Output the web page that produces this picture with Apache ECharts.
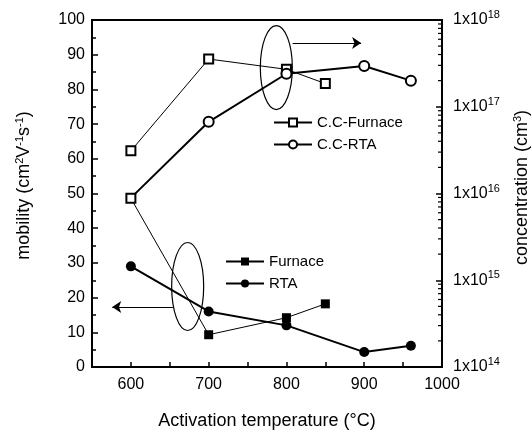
<!DOCTYPE html>
<html>
<head>
<meta charset="utf-8">
<script src="https://cdn.jsdelivr.net/npm/echarts@6/dist/echarts.min.js"></script>
<style>
  html, body { margin: 0; padding: 0; background: #fff; }
  #main { width: 532px; height: 431px; }
</style>
</head>
<body>
<div id="main"></div>
<script>
// mobility (left axis)
let furnaceTemps = [600, 700, 800, 850];
let furnaceMobility = [48.6, 9.3, 14.2, 18.2];
let rtaTemps = [600, 700, 800, 900, 960];
let rtaMobility = [29, 16, 12, 4.3, 6.1];
// carrier concentration (right axis, log)
let ccFurnaceTemps = [600, 700, 800, 850];
let ccFurnaceConc = [3.1e16, 3.55e17, 2.7e17, 1.85e17];
let ccRtaTemps = [600, 700, 800, 900, 960];
let ccRtaConc = [8.9e15, 6.7e16, 2.4e17, 2.95e17, 2.0e17];
// tick labels
let xLabels = [600, 700, 800, 900, 1000];
let concDecades = [14, 15, 16, 17, 18];
let minorMantissas = [2, 3, 4, 5, 6, 7, 8, 9];

// annotation ellipses / arrows, in data units of the left axis
let ellipseRight = { x: 787, y: 86.3, rx: 16, ry: 42 };
let ellipseLeft = { x: 673, y: 23.2, rx: 16, ry: 44 };
let arrowRight = [[808, 93.4], [896, 93.4]];
let arrowLeft = [[654, 17.3], [576, 17.3]];

const FONT = 'Liberation Sans, Arial, sans-serif';

function zip(xs, ys) {
  return xs.map(function (x, i) { return [x, ys[i]]; });
}

// log minor tick values 2..9 x 10^n, drawn on the right axis
let minorTicks = [];
concDecades.slice(0, -1).forEach(function (d) {
  minorMantissas.forEach(function (m) { minorTicks.push([1000, m * Math.pow(10, d)]); });
});

let furnaceData = zip(furnaceTemps, furnaceMobility);
furnaceData[0] = { value: furnaceData[0], symbol: 'emptyRect' };
let ccRtaData = zip(ccRtaTemps, ccRtaConc);
ccRtaData[0] = { value: ccRtaData[0], symbol: 'none' };

let chart = echarts.init(document.getElementById('main'));

let supRich = {
  s: { fontSize: 11, padding: [0, 0, 10, 0], fontFamily: FONT, color: '#000' }
};

let option = {
  backgroundColor: '#fff',
  animation: false,
  textStyle: { fontFamily: FONT, color: '#000' },
  grid: {
    left: 92, right: 90, top: 20, bottom: 64,
    outerBoundsMode: 'none', containLabel: false,
    show: true, borderColor: '#000', borderWidth: 2
  },
  legend: [
    {
      data: ['C.C-Furnace', 'C.C-RTA'],
      orient: 'vertical',
      left: 273, top: 115, padding: 0,
      itemWidth: 38, itemHeight: 10, itemGap: 7,
      textStyle: { fontSize: 15, color: '#000', fontFamily: FONT }
    },
    {
      data: ['Furnace', 'RTA'],
      orient: 'vertical',
      left: 225, top: 254, padding: 0,
      itemWidth: 38, itemHeight: 10, itemGap: 7,
      textStyle: { fontSize: 15, color: '#000', fontFamily: FONT }
    }
  ],
  xAxis: {
    type: 'value',
    min: 550, max: 1000, interval: 50,
    name: 'Activation temperature (°C)',
    nameLocation: 'middle', nameGap: 45,
    nameTextStyle: { fontSize: 18, color: '#000', fontFamily: FONT },
    axisLine: { lineStyle: { color: '#000', width: 2 } },
    axisTick: { inside: true, length: 5, lineStyle: { color: '#000', width: 1.5 } },
    axisLabel: {
      fontSize: 16, color: '#000', margin: 10,
      formatter: function (v) { return xLabels.indexOf(v) >= 0 ? String(v) : ''; }
    },
    splitLine: { show: false }
  },
  yAxis: [
    {
      type: 'value',
      min: 0, max: 100, interval: 10,
      name: 'mobility (cm{s|2}V{s|-1}s{s|-1})',
      nameLocation: 'middle', nameGap: 57, nameRotate: 90,
      nameTextStyle: { fontSize: 18, color: '#000', fontFamily: FONT, padding: [0, 0, 0, 16], rich: supRich },
      axisLine: { show: true, lineStyle: { color: '#000', width: 2 } },
      axisTick: { inside: true, length: 6, lineStyle: { color: '#000', width: 1.5 } },
      minorTick: { show: true, splitNumber: 2, length: 4, lineStyle: { color: '#000', width: 1.5 } },
      axisLabel: { fontSize: 16, color: '#000', margin: 7 },
      splitLine: { show: false },
      minorSplitLine: { show: false }
    },
    {
      type: 'log',
      logBase: 10,
      min: 1e14, max: 1e18,
      position: 'right',
      name: 'concentration (cm{s|3})',
      nameLocation: 'middle', nameGap: 70, nameRotate: 90,
      nameTextStyle: { fontSize: 18, color: '#000', fontFamily: FONT, padding: [0, 0, 0, 12], rich: supRich },
      axisLine: { show: true, lineStyle: { color: '#000', width: 2 } },
      axisTick: { inside: true, length: 6, lineStyle: { color: '#000', width: 1.5 } },
      axisLabel: {
        fontSize: 16, color: '#000', margin: 11,
        formatter: function (v) {
          return '1x10{s|' + Math.round(Math.log10(v)) + '}';
        },
        rich: supRich
      },
      splitLine: { show: false }
    }
  ],
  series: [
    {
      name: 'C.C-Furnace', type: 'line', yAxisIndex: 1,
      data: zip(ccFurnaceTemps, ccFurnaceConc),
      symbol: 'emptyRect', symbolSize: 9,
      itemStyle: { color: '#000', borderWidth: 1.5 },
      lineStyle: { color: '#000', width: 1 }
    },
    {
      name: 'C.C-RTA', type: 'line', yAxisIndex: 1,
      data: ccRtaData,
      symbol: 'emptyCircle', symbolSize: 10,
      itemStyle: { color: '#000', borderWidth: 1.5 },
      lineStyle: { color: '#000', width: 2 }
    },
    {
      name: 'Furnace', type: 'line', yAxisIndex: 0,
      data: furnaceData,
      symbol: 'rect', symbolSize: 9,
      itemStyle: { color: '#000', borderWidth: 1.5 },
      lineStyle: { color: '#000', width: 1 }
    },
    {
      name: 'RTA', type: 'line', yAxisIndex: 0,
      data: zip(rtaTemps, rtaMobility),
      symbol: 'circle', symbolSize: 10,
      itemStyle: { color: '#000' },
      lineStyle: { color: '#000', width: 2 },
      markLine: {
        silent: true,
        symbol: ['none', 'arrow'],
        symbolSize: 9,
        label: { show: false },
        lineStyle: { color: '#000', width: 1, type: 'solid' },
        data: [
          [{ coord: arrowRight[0] }, { coord: arrowRight[1] }],
          [{ coord: arrowLeft[0] }, { coord: arrowLeft[1] }]
        ]
      }
    },
    {
      // minor ticks of the log axis
      name: 'minor ticks', type: 'custom', yAxisIndex: 1,
      silent: true, clip: false,
      data: minorTicks,
      renderItem: function (params, api) {
        let p = api.coord([api.value(0), api.value(1)]);
        return {
          type: 'line',
          shape: { x1: p[0] - 1, y1: p[1], x2: p[0] - 4, y2: p[1] },
          style: { stroke: '#000', lineWidth: 1.2 }
        };
      }
    }
  ]
};

chart.setOption(option);

// the two ellipses marking which curves go with which axis
function ellipseAt(e) {
  let p = chart.convertToPixel({ xAxisIndex: 0, yAxisIndex: 0 }, [e.x, e.y]);
  return {
    type: 'ellipse',
    shape: { cx: p[0], cy: p[1], rx: e.rx, ry: e.ry },
    style: { fill: 'none', stroke: '#000', lineWidth: 1.2 },
    z: 10
  };
}
chart.setOption({ graphic: [ellipseAt(ellipseRight), ellipseAt(ellipseLeft)] });
</script>
</body>
</html>
